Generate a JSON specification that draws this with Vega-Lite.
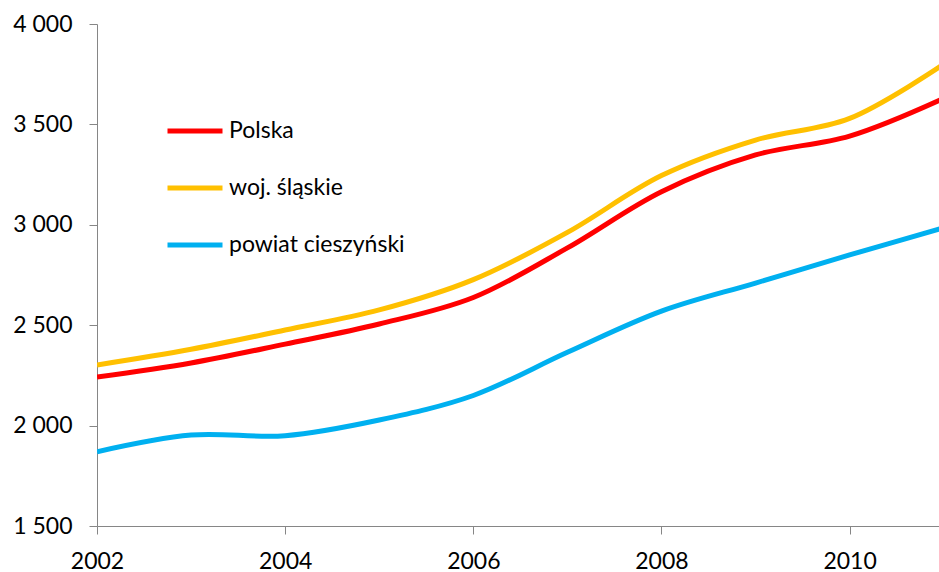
{
  "$schema": "https://vega.github.io/schema/vega-lite/v6.json",
  "width": 842,
  "height": 502,
  "autosize": "none",
  "padding": {"left": 97, "top": 24, "right": 0, "bottom": 46},
  "background": "white",
  "config": {
    "view": {"stroke": null},
    "font": "Lato"
  },
  "data": {
    "values": [
      {"rok": 2002, "seria": "Polska", "wartosc": 2242},
      {"rok": 2003, "seria": "Polska", "wartosc": 2312},
      {"rok": 2004, "seria": "Polska", "wartosc": 2406},
      {"rok": 2005, "seria": "Polska", "wartosc": 2506},
      {"rok": 2006, "seria": "Polska", "wartosc": 2638},
      {"rok": 2007, "seria": "Polska", "wartosc": 2885},
      {"rok": 2008, "seria": "Polska", "wartosc": 3165},
      {"rok": 2009, "seria": "Polska", "wartosc": 3348},
      {"rok": 2010, "seria": "Polska", "wartosc": 3442},
      {"rok": 2011, "seria": "Polska", "wartosc": 3630},
      {"rok": 2002, "seria": "woj. śląskie", "wartosc": 2302},
      {"rok": 2003, "seria": "woj. śląskie", "wartosc": 2380},
      {"rok": 2004, "seria": "woj. śląskie", "wartosc": 2476},
      {"rok": 2005, "seria": "woj. śląskie", "wartosc": 2576},
      {"rok": 2006, "seria": "woj. śląskie", "wartosc": 2727},
      {"rok": 2007, "seria": "woj. śląskie", "wartosc": 2962},
      {"rok": 2008, "seria": "woj. śląskie", "wartosc": 3245},
      {"rok": 2009, "seria": "woj. śląskie", "wartosc": 3422},
      {"rok": 2010, "seria": "woj. śląskie", "wartosc": 3530},
      {"rok": 2011, "seria": "woj. śląskie", "wartosc": 3800},
      {"rok": 2002, "seria": "powiat cieszyński", "wartosc": 1870},
      {"rok": 2003, "seria": "powiat cieszyński", "wartosc": 1953},
      {"rok": 2004, "seria": "powiat cieszyński", "wartosc": 1950},
      {"rok": 2005, "seria": "powiat cieszyński", "wartosc": 2028},
      {"rok": 2006, "seria": "powiat cieszyński", "wartosc": 2150},
      {"rok": 2007, "seria": "powiat cieszyński", "wartosc": 2365},
      {"rok": 2008, "seria": "powiat cieszyński", "wartosc": 2570},
      {"rok": 2009, "seria": "powiat cieszyński", "wartosc": 2710},
      {"rok": 2010, "seria": "powiat cieszyński", "wartosc": 2850},
      {"rok": 2011, "seria": "powiat cieszyński", "wartosc": 2985}
    ]
  },
  "mark": {"type": "line", "interpolate": "catmull-rom", "strokeWidth": 5, "clip": true},
  "encoding": {
    "x": {
      "field": "rok",
      "type": "quantitative",
      "scale": {"domain": [2002, 2010.95], "nice": false, "zero": false},
      "axis": {
        "title": null,
        "values": [2002, 2004, 2006, 2008, 2010],
        "format": "d",
        "grid": false,
        "labelFlush": false,
        "domainColor": "#868686",
        "tickColor": "#868686",
        "tickSize": 8,
        "labelFontSize": 23,
        "labelColor": "#000000",
        "labelPadding": 16,
        "labelFont": "Lato"
      }
    },
    "y": {
      "field": "wartosc",
      "type": "quantitative",
      "scale": {"domain": [1500, 4000], "nice": false, "zero": false},
      "axis": {
        "title": null,
        "values": [1500, 2000, 2500, 3000, 3500, 4000],
        "labelExpr": "replace(format(datum.value, ',d'), ',', ' ')",
        "grid": false,
        "labelFlush": false,
        "domainColor": "#868686",
        "tickColor": "#868686",
        "tickSize": 8,
        "labelFontSize": 23,
        "labelColor": "#000000",
        "labelPadding": 17,
        "labelFont": "Lato"
      }
    },
    "color": {
      "field": "seria",
      "type": "nominal",
      "scale": {
        "domain": ["Polska", "woj. śląskie", "powiat cieszyński"],
        "range": ["#FF0000", "#FFC000", "#00B0F0"]
      },
      "legend": {
        "title": null,
        "orient": "none",
        "legendX": 68,
        "legendY": 77,
        "symbolType": "stroke",
        "symbolSize": 3025,
        "symbolStrokeWidth": 5,
        "labelFontSize": 23,
        "labelFont": "Lato",
        "labelColor": "#000000",
        "labelOffset": 4,
        "rowPadding": 15,
        "labelLimit": 400
      }
    }
  }
}
